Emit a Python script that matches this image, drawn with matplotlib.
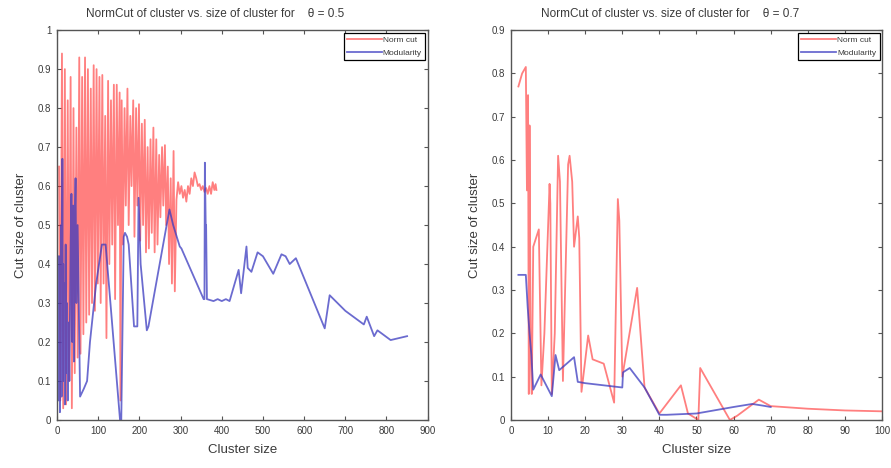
import matplotlib
matplotlib.use("Agg")
import matplotlib.pyplot as plt
from matplotlib.ticker import FuncFormatter, MultipleLocator

plt.rcParams["font.family"] = ["Liberation Sans", "DejaVu Sans"]

# ---- theta = 0.5 ----
nc05_x = [5, 8, 12, 15, 19, 22, 26, 29, 33, 36,
          40, 43, 47, 50, 54, 57, 61, 64, 68, 71,
          75, 78, 82, 85, 89, 92, 96, 99, 103, 106,
          110, 113, 117, 120, 124, 127, 131, 134, 138, 141,
          145, 148, 152, 154, 157, 160, 164, 167, 171, 174,
          178, 181, 185, 188, 192, 195, 199, 202, 206, 209,
          213, 216, 220, 223, 227, 230, 234, 237, 241, 244,
          248, 251, 255, 258, 262, 265, 269, 272, 276, 279,
          283, 286, 290, 294, 298, 302, 306, 310, 314, 318,
          322, 326, 330, 334, 338, 342, 346, 350, 354, 358,
          362, 366, 370, 374, 378, 382, 385, 387]
nc05_y = [0.65, 0.05, 0.94, 0.03, 0.90, 0.04, 0.82, 0.10, 0.88, 0.03,
          0.80, 0.12, 0.75, 0.16, 0.93, 0.17, 0.88, 0.22, 0.93, 0.25,
          0.90, 0.27, 0.85, 0.30, 0.91, 0.28, 0.90, 0.35, 0.88, 0.30,
          0.885, 0.35, 0.78, 0.21, 0.87, 0.40, 0.82, 0.45, 0.86, 0.31,
          0.86, 0.50, 0.84, 0.05, 0.82, 0.45, 0.80, 0.55, 0.85, 0.50,
          0.78, 0.60, 0.82, 0.47, 0.80, 0.55, 0.81, 0.46, 0.76, 0.50,
          0.77, 0.43, 0.70, 0.44, 0.72, 0.48, 0.75, 0.43, 0.72, 0.45,
          0.68, 0.52, 0.70, 0.55, 0.705, 0.50, 0.65, 0.40, 0.62, 0.35,
          0.69, 0.33, 0.565, 0.61, 0.58, 0.60, 0.57, 0.59, 0.56, 0.60,
          0.58, 0.62, 0.60, 0.635, 0.62, 0.60, 0.605, 0.59, 0.60, 0.585,
          0.595, 0.58, 0.60, 0.58, 0.61, 0.59, 0.605, 0.59]

mod05_x = [2, 3, 4, 5, 6, 7, 8, 9, 10, 11, 13, 14, 15, 16, 18, 19, 21, 22, 24, 26, 28, 30,
           33, 35, 37, 39, 41, 43, 45, 47, 50, 56, 65, 73, 80, 95, 109, 118, 153, 156, 162,
           165, 170, 174, 187, 195, 198, 203, 218, 222, 273, 282, 298, 302, 356, 358, 359,
           361, 362, 364, 380, 390, 400, 410, 419, 441, 447, 460, 463, 472, 487, 500, 525,
           545, 555, 565, 580, 650, 662, 700, 745, 752, 770, 778, 810, 830, 850]
mod05_y = [0.42, 0.05, 0.30, 0.10, 0.42, 0.02, 0.35, 0.15, 0.50, 0.06, 0.67, 0.20, 0.40,
           0.10, 0.35, 0.04, 0.45, 0.12, 0.30, 0.05, 0.25, 0.10, 0.45, 0.58, 0.20, 0.55,
           0.15, 0.50, 0.62, 0.30, 0.50, 0.06, 0.08, 0.10, 0.20, 0.35, 0.45, 0.45, 0.0, 0.0,
           0.47, 0.48, 0.47, 0.45, 0.24, 0.24, 0.57, 0.40, 0.23, 0.24, 0.54, 0.50, 0.445,
           0.44, 0.31, 0.31, 0.66, 0.50, 0.50, 0.31, 0.305, 0.31, 0.305, 0.31, 0.305, 0.385,
           0.325, 0.445, 0.39, 0.38, 0.43, 0.42, 0.375, 0.425, 0.42, 0.40, 0.415, 0.235,
           0.32, 0.28, 0.245, 0.265, 0.215, 0.23, 0.205, 0.21, 0.215]

# ---- theta = 0.7 ----
nc07_x = [2, 3, 4, 4.3, 4.6, 4.8, 5.0, 5.3, 5.6, 6.0, 7.5, 8.2, 9.0, 10.4, 10.6, 11.0, 11.8,
          12.7, 13.2, 14.0, 15.4, 15.8, 16.5, 17.0, 18.0, 18.4, 19.0, 20.8, 22.0, 25.0,
          27.8, 28.8, 29.2, 30.0, 34.0, 36.0, 40.0, 45.8, 47.7, 50.5, 51.0, 59.0, 61.0,
          66.8, 70.0, 80.0, 90.0, 100.0]
nc07_y = [0.77, 0.80, 0.815, 0.53, 0.75, 0.06, 0.68, 0.15, 0.06, 0.40, 0.44, 0.08, 0.20,
          0.545, 0.50, 0.06, 0.20, 0.61, 0.55, 0.09, 0.59, 0.61, 0.55, 0.40, 0.47, 0.42,
          0.065, 0.195, 0.14, 0.13, 0.04, 0.51, 0.46, 0.10, 0.305, 0.075, 0.015, 0.08,
          0.015, 0.0, 0.12, 0.0, 0.01, 0.047, 0.032, 0.026, 0.022, 0.02]

mod07_x = [2, 4, 4.5, 5, 5.5, 6, 8, 11, 12, 13, 17, 18, 20, 25, 30, 30.2, 32, 36, 40, 42,
           50, 52, 60, 65, 68, 70]
mod07_y = [0.335, 0.335, 0.26, 0.20, 0.15, 0.07, 0.105, 0.055, 0.15, 0.115, 0.145, 0.088,
           0.085, 0.08, 0.075, 0.11, 0.12, 0.075, 0.012, 0.012, 0.015, 0.018, 0.03, 0.037,
           0.033, 0.03]

RED = "#ff2a2a"
BLUE = "#3a3ac0"
TXT = "#3a3a3a"

fig = plt.figure(figsize=(8.91, 4.68), dpi=100)
fig.patch.set_facecolor("white")

def style_axes(ax, xmax, ymax, xstep, ystep):
    ax.set_xlim(0, xmax)
    ax.set_ylim(0, ymax)
    ax.xaxis.set_major_locator(MultipleLocator(xstep))
    ax.yaxis.set_major_locator(MultipleLocator(ystep))
    ax.yaxis.set_major_formatter(FuncFormatter(lambda v, p: f"{round(v, 3):g}"))
    ax.xaxis.set_major_formatter(FuncFormatter(lambda v, p: f"{round(v, 3):g}"))
    ax.tick_params(direction="in", length=3, width=0.8, top=True, right=True,
                   labelsize=7, colors="#555555", labelcolor=TXT, pad=4)
    for s in ax.spines.values():
        s.set_color("#555555")
        s.set_linewidth(1.0)
    ax.set_xlabel("Cluster size", fontsize=9.5, color=TXT, labelpad=6)
    ax.set_ylabel("Cut size of cluster", fontsize=9.5, color=TXT, labelpad=8)

def add_legend(ax):
    leg = ax.legend(loc="upper right", fontsize=6, handlelength=4.2,
                    fancybox=False, framealpha=1, edgecolor="black",
                    borderpad=0.4, labelspacing=0.6, handletextpad=0.1,
                    borderaxespad=0.3)
    leg.get_frame().set_linewidth(0.9)
    for t in leg.get_texts():
        t.set_color(TXT)

ax1 = fig.add_axes([0.064, 0.1026, 0.416, 0.833])
ax1.plot(nc05_x, nc05_y, color=RED, alpha=0.6, lw=1.3, label="Norm cut")
ax1.plot(mod05_x, mod05_y, color=BLUE, alpha=0.75, lw=1.3, label="Modularity")
style_axes(ax1, 900, 1.0, 100, 0.1)
add_legend(ax1)
ax1.text(0.426, 1.025, "NormCut of cluster vs. size of cluster for    θ = 0.5",
         transform=ax1.transAxes, ha="center", va="bottom", fontsize=8.5, color=TXT)

ax2 = fig.add_axes([0.5735, 0.1026, 0.4164, 0.833])
ax2.plot(nc07_x, nc07_y, color=RED, alpha=0.6, lw=1.3, label="Norm cut")
ax2.plot(mod07_x, mod07_y, color=BLUE, alpha=0.75, lw=1.3, label="Modularity")
style_axes(ax2, 100, 0.9, 10, 0.1)
add_legend(ax2)
ax2.text(0.43, 1.025, "NormCut of cluster vs. size of cluster for    θ = 0.7",
         transform=ax2.transAxes, ha="center", va="bottom", fontsize=8.5, color=TXT)

fig.savefig("out.png", dpi=100)
